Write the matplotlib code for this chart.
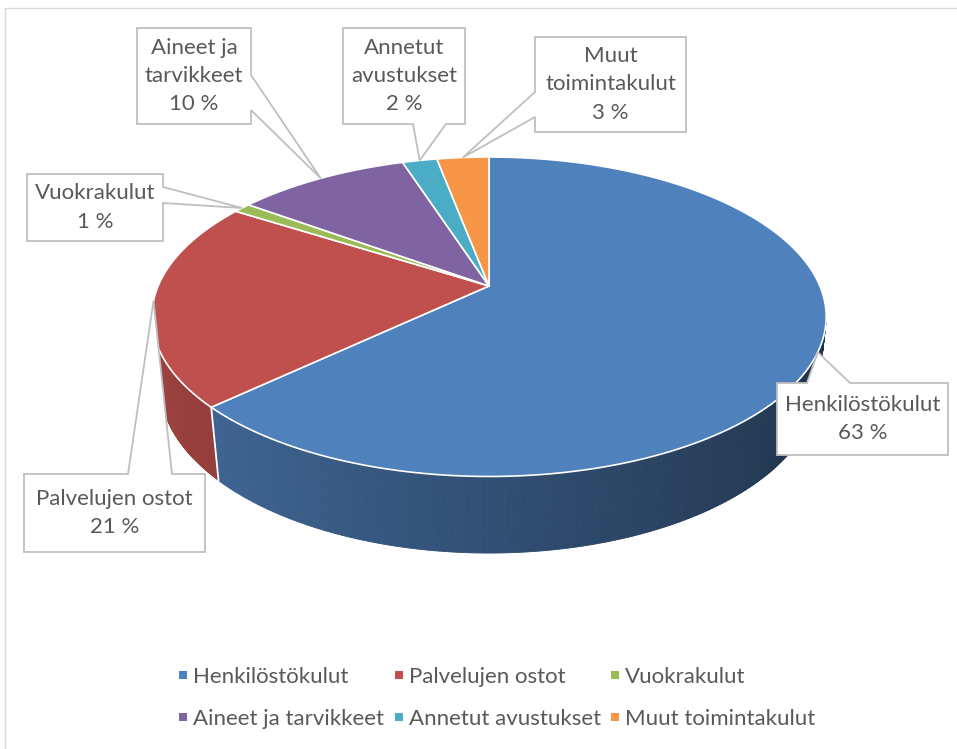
import numpy as np
import matplotlib
matplotlib.use("Agg")
import matplotlib.pyplot as plt
from matplotlib.patches import Polygon, Rectangle
from matplotlib.collections import PolyCollection
from matplotlib.lines import Line2D

# ---------------- data ----------------
categories = ["Henkilöstökulut", "Palvelujen ostot", "Vuokrakulut",
              "Aineet ja tarvikkeet", "Annetut avustukset", "Muut toimintakulut"]
values = [63, 21, 1, 10, 2, 3]
label_names = ["Henkilöstökulut", "Palvelujen ostot", "Vuokrakulut",
               "Aineet ja\ntarvikkeet", "Annetut\navustukset", "Muut\ntoimintakulut"]
colors = ["#4F81BD", "#C0504D", "#9BBB59", "#8064A2", "#4BACC6", "#F79646"]

# ---------------- layout (pixels) ----------------
W, H = 957, 749
CX, CY = 489, 286          # pie apex on screen
FOC = 1522.0               # focal scale
DIST = 4.6                 # camera distance (pie radii)
ELEV = np.radians(27.7)
THICK = 0.2325
TEXT_COLOR = "#595959"
FONT = ["Lato", "Liberation Sans", "DejaVu Sans"]
FS = 16

# label boxes: (x0, y0, x1, y1), side of pointer, pointer base span
label_boxes = [
    ((777, 383, 948, 455), "top", (807, 850)),
    ((24, 474, 205, 552), "top", (128, 172)),
    ((27, 174, 163, 241), "right", (187, 203)),
    ((137, 28, 251, 124), "right", (75, 110)),
    ((343, 28, 465, 124), "bottom", (413, 446)),
    ((535, 37, 686, 132), "left", (92, 117)),
]

plt.rcParams["font.family"] = FONT
fig = plt.figure(figsize=(W / 100, H / 100), dpi=100)
ax = fig.add_axes([0, 0, 1, 1])
ax.set_xlim(0, W)
ax.set_ylim(H, 0)
ax.axis("off")

c, s = np.cos(ELEV), np.sin(ELEV)


def proj(X, Y, Z):
    X, Y, Z = np.broadcast_arrays(np.asarray(X, float), np.asarray(Y, float), np.asarray(Z, float))
    depth = c * Y + DIST - s * Z
    up = s * Y + c * Z
    return np.column_stack([CX + FOC * X / depth, CY - FOC * up / depth])


def rgb(hexc):
    hexc = hexc.lstrip("#")
    return np.array([int(hexc[i:i + 2], 16) for i in (0, 2, 4)]) / 255.0


total = float(sum(values))
bounds = np.concatenate([[0], np.cumsum(values)]) / total * 2 * np.pi
front_lim = -1.0 / (DIST * c)

# chart border
ax.add_patch(Rectangle((5, 8), W + 20, H + 20, fill=False, ec="#D9D9D9", lw=1.0, zorder=0))

# ---------------- side walls ----------------
for i, col in enumerate(colors):
    a0, a1 = bounds[i], bounds[i + 1]
    n = max(2, int(np.degrees(a1 - a0) * 3) + 2)
    th = np.linspace(a0, a1, n)
    quads, fcs = [], []
    base = rgb(col)
    for t0, t1 in zip(th[:-1], th[1:]):
        tm = 0.5 * (t0 + t1)
        if np.cos(tm) > front_lim + 0.03:
            continue
        p = proj([np.sin(t0), np.sin(t1), np.sin(t1), np.sin(t0)],
                 [np.cos(t0), np.cos(t1), np.cos(t1), np.cos(t0)],
                 [0, 0, -THICK, -THICK])
        quads.append(p)
        shade = 0.61 - 0.22 * np.sin(tm)
        fcs.append(np.clip(base * shade, 0, 1))
    if quads:
        pc = PolyCollection(quads, facecolors=fcs, edgecolors=fcs, linewidths=0.6, zorder=2)
        ax.add_collection(pc)

# white vertical edges at visible slice boundaries
for b in bounds[:-1]:
    if np.cos(b) < front_lim:
        p = proj([np.sin(b)] * 2, [np.cos(b)] * 2, [0, -THICK])
        ax.plot(p[:, 0], p[:, 1], color="white", lw=1.3, zorder=3)

# ---------------- top faces ----------------
for i, col in enumerate(colors):
    a0, a1 = bounds[i], bounds[i + 1]
    n = max(2, int(np.degrees(a1 - a0) * 2) + 2)
    th = np.linspace(a0, a1, n)
    rim = proj(np.sin(th), np.cos(th), 0 * th)
    pts = np.vstack([proj(0, 0, 0), rim])
    ax.add_patch(Polygon(pts, closed=True, fc=col, ec="white", lw=1.2,
                         joinstyle="round", zorder=4))

# ---------------- callout labels ----------------
for i, (box, side, span) in enumerate(label_boxes):
    x0, y0, x1, y1 = box
    mid = 0.5 * (bounds[i] + bounds[i + 1])
    tx, ty = proj(np.sin(mid), np.cos(mid), 0)[0]
    b1, b2 = span
    TL, TR, BR, BL = (x0, y0), (x1, y0), (x1, y1), (x0, y1)
    if side == "top":
        pts = [TL, (b1, y0), (tx, ty), (b2, y0), TR, BR, BL]
    elif side == "right":
        pts = [TL, TR, (x1, b1), (tx, ty), (x1, b2), BR, BL]
    elif side == "bottom":
        pts = [TL, TR, BR, (b2, y1), (tx, ty), (b1, y1), BL]
    else:
        pts = [TL, TR, BR, BL, (x0, b2), (tx, ty), (x0, b1)]
    ax.add_patch(Polygon(pts, closed=True, fc="white", ec="#BFBFBF", lw=1.3,
                         joinstyle="miter", zorder=6))
    lines = label_names[i].split("\n") + [f"{values[i]} %"]
    ycen = 0.5 * (y0 + y1)
    step = 28.5
    for k, line in enumerate(lines):
        yy = ycen + (k - (len(lines) - 1) / 2) * step
        ax.text(0.5 * (x0 + x1), yy, line, ha="center", va="center",
                fontsize=FS, color=TEXT_COLOR, zorder=7)

# ---------------- legend ----------------
handles = [Line2D([], [], ls="", marker="s", markersize=6, color=col, markeredgewidth=0)
           for col in colors]
order = [0, 3, 1, 4, 2, 5]
leg = ax.legend([handles[j] for j in order], [categories[j] for j in order],
                loc="center", bbox_to_anchor=(497 / W, 1 - 698 / H),
                ncol=3, frameon=False, fontsize=FS, labelcolor=TEXT_COLOR,
                handlelength=0.4, handletextpad=0.25, columnspacing=0.45,
                labelspacing=1.0, borderpad=0)

fig.savefig("out.png", dpi=100, facecolor="white")
